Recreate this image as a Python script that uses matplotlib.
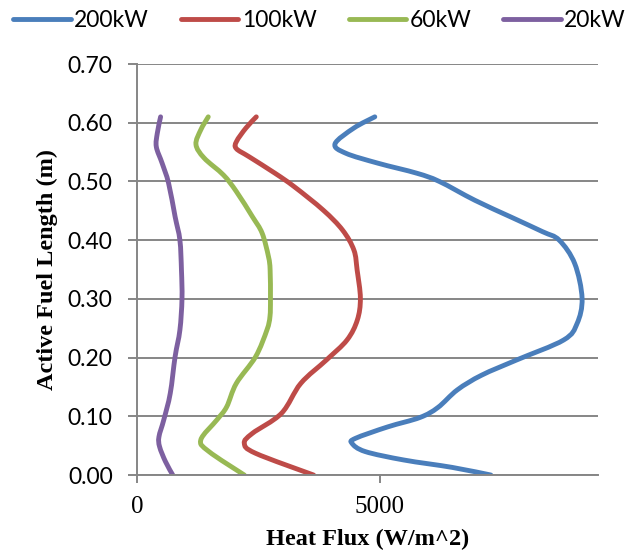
import matplotlib
matplotlib.use("Agg")
import matplotlib.pyplot as plt
from matplotlib.path import Path
from matplotlib.patches import PathPatch
from matplotlib.lines import Line2D

# data (heat flux in W/m^2, height in m)
y_200 = [0.610, 0.591, 0.564, 0.548, 0.531, 0.514, 0.500, 0.468, 0.440, 0.4145, 0.400, 0.360,
         0.301, 0.258, 0.230, 0.196, 0.170, 0.145, 0.115, 0.098, 0.082, 0.0625, 0.054, 0.040,
         0.0256, 0.013, 0.0]
q_200 = [4900, 4470, 4080, 4303, 4968, 5765, 6229, 6960, 7689, 8355, 8700, 9020,
         9171, 9068, 8792, 7824, 7100, 6600, 6200, 5830, 5167, 4502, 4430, 4701,
         5498, 6494, 7291]

y_100 = [0.610, 0.591, 0.568, 0.556, 0.542, 0.514, 0.491, 0.451, 0.417, 0.383, 0.349, 0.301,
         0.264, 0.230, 0.196, 0.156, 0.105, 0.071, 0.054, 0.037, 0.0]
q_100 = [2458, 2245, 2050, 2046, 2311, 2843, 3241, 3839, 4237, 4470, 4536, 4603,
         4540, 4328, 3904, 3374, 2976, 2378, 2211, 2444, 3639]

y_60 = [0.610, 0.588, 0.563, 0.540, 0.511, 0.483, 0.440, 0.412, 0.372, 0.349, 0.300, 0.270,
        0.247, 0.2015, 0.156, 0.116, 0.094, 0.060, 0.040, 0.0]
q_60 = [1468, 1315, 1215, 1382, 1781, 2046, 2378, 2578, 2709, 2743, 2750, 2740,
        2677, 2444, 2046, 1847, 1647, 1315, 1482, 2211]

y_20 = [0.610, 0.582, 0.559, 0.531, 0.497, 0.440, 0.400, 0.349, 0.300, 0.247, 0.2015, 0.139,
        0.094, 0.065, 0.048, 0.023, 0.0]
q_20 = [486, 418, 398, 518, 651, 785, 884, 916, 927, 884, 785, 685,
        552, 452, 466, 586, 737]

series = [("200kW", q_200, y_200, "#4A7EBB"),
          ("100kW", q_100, y_100, "#BE4B48"),
          ("60kW", q_60, y_60, "#98B954"),
          ("20kW", q_20, y_20, "#7D60A0")]

y_ticks = [0.0, 0.1, 0.2, 0.3, 0.4, 0.5, 0.6, 0.7]
x_ticks = [0, 5000]


def smooth_path(xs, ys):
    # excel-style smoothed line: cubic bezier segments through the points
    pts = list(zip(xs, ys))
    n = len(pts)
    verts = [pts[0]]
    codes = [Path.MOVETO]
    for i in range(n - 1):
        p0 = pts[i - 1] if i > 0 else pts[i]
        p1 = pts[i]
        p2 = pts[i + 1]
        p3 = pts[i + 2] if i + 2 < n else pts[i + 1]
        c1 = (p1[0] + (p2[0] - p0[0]) / 6, p1[1] + (p2[1] - p0[1]) / 6)
        c2 = (p2[0] - (p3[0] - p1[0]) / 6, p2[1] - (p3[1] - p1[1]) / 6)
        verts += [c1, c2, p2]
        codes += [Path.CURVE4] * 3
    return Path(verts, codes)


fig = plt.figure(figsize=(6.39, 5.58), dpi=100)
ax = fig.add_axes([0.2144, 0.1487, 0.7215, 0.7366])

handles = []
for name, q, y, c in series:
    ax.add_patch(PathPatch(smooth_path(q, y), fill=False, edgecolor=c, lw=3.5,
                           capstyle="round", joinstyle="round"))
    handles.append(Line2D([], [], color=c, lw=3.5, solid_capstyle="round", label=name))

ax.set_xlim(0, 9500)
ax.set_ylim(0, 0.70)
ax.set_yticks(y_ticks)
ax.set_yticklabels(["%.2f" % v for v in y_ticks], family="Lato", fontsize=16.5)
ax.set_xticks(x_ticks)
ax.set_xticklabels([str(v) for v in x_ticks], family="Liberation Serif", fontsize=18)

ax.grid(axis="y", color="#868686", lw=1.4)
ax.set_axisbelow(True)
for s in ["top", "right"]:
    ax.spines[s].set_visible(False)
for s in ["left", "bottom"]:
    ax.spines[s].set_color("#868686")
    ax.spines[s].set_linewidth(1.4)
ax.tick_params(axis="y", direction="out", length=6.5, width=1.4, color="#868686", pad=11)
ax.tick_params(axis="x", direction="out", length=6, width=1.4, color="#868686", pad=9)

ax.set_xlabel("Heat Flux (W/m^2)", family="Liberation Serif", fontweight="bold", fontsize=17.5, labelpad=8)
ax.set_ylabel("Active Fuel Length (m)", family="Liberation Serif", fontweight="bold", fontsize=17.5, labelpad=7)

fig.legend(handles=handles, loc="center", bbox_to_anchor=(0.5, 0.963), ncol=4, frameon=False,
           prop={"family": "Lato", "size": 16.5}, handlelength=2.5, handletextpad=0.15,
           columnspacing=1.4, borderpad=0)

fig.savefig("out.png", dpi=100)
